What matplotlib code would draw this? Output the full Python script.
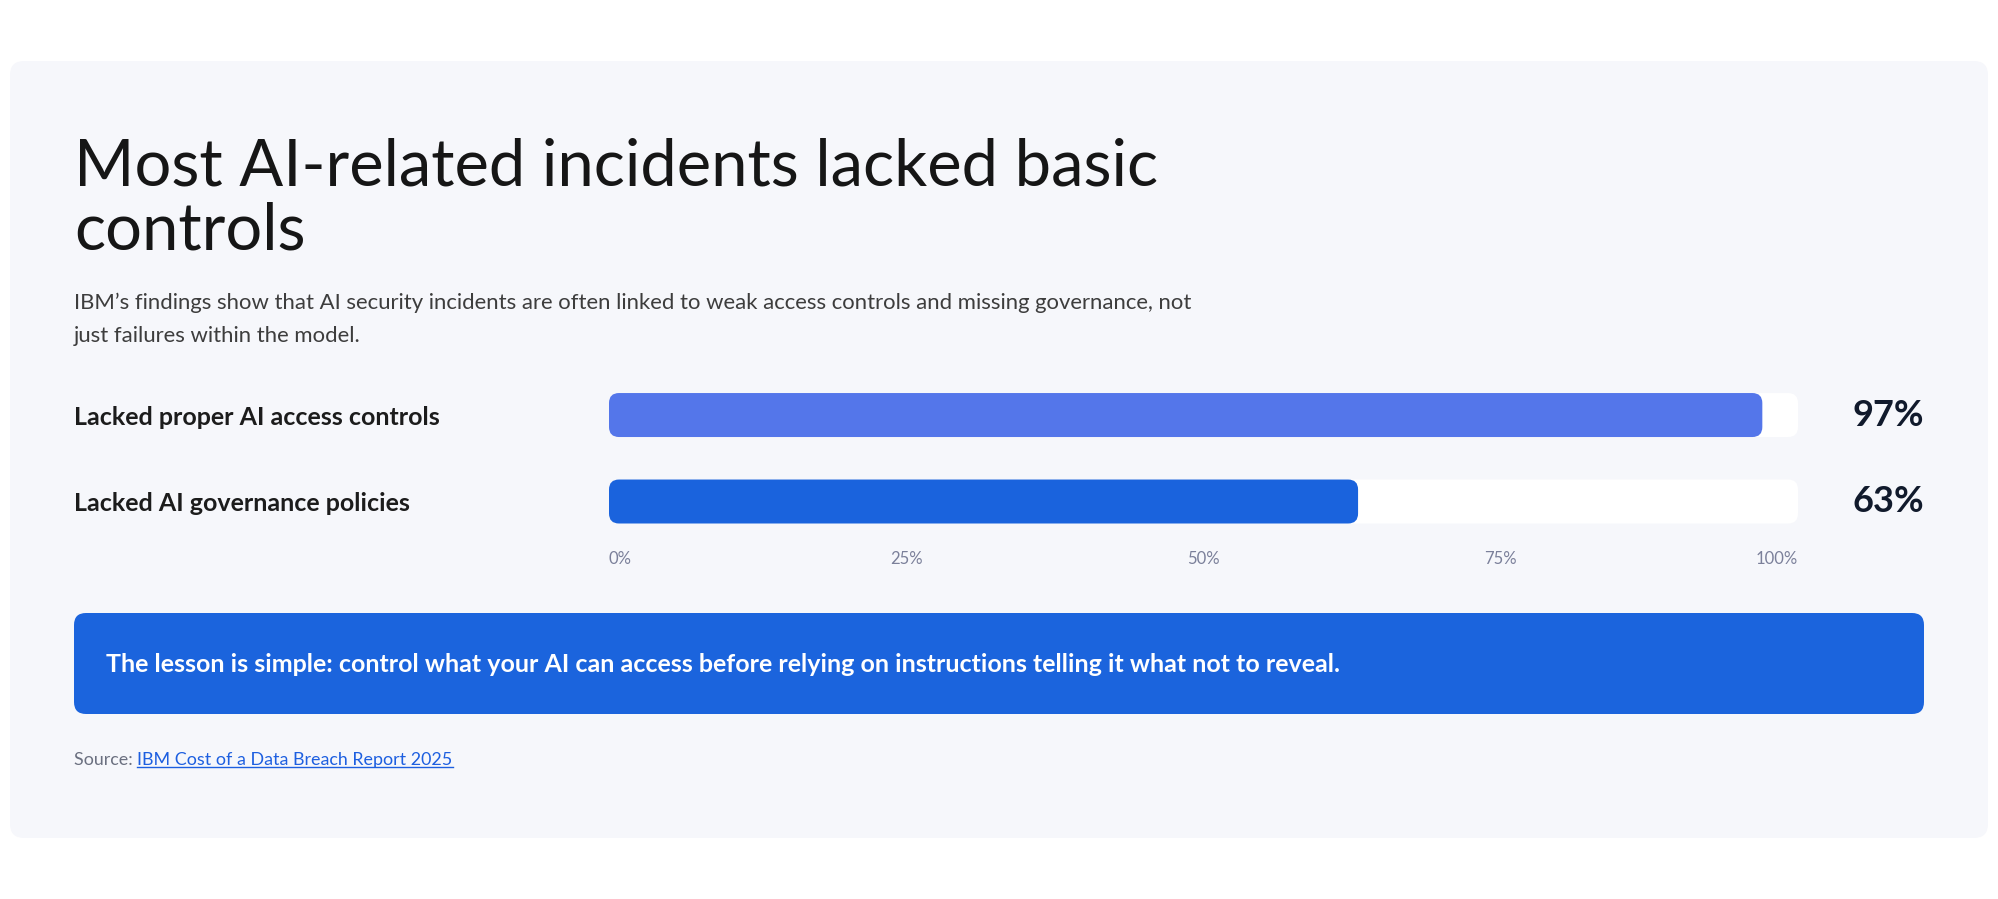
import matplotlib
matplotlib.use("Agg")
import matplotlib.pyplot as plt
from matplotlib.patches import FancyBboxPatch
from matplotlib.lines import Line2D

plt.rcParams['font.family'] = ['Lato', 'DejaVu Sans']

# data
categories = ["Lacked proper AI access controls", "Lacked AI governance policies"]
values = [97, 63]
bar_colors = ["#5476ea", "#1a63dd"]
ticks = [0, 25, 50, 75, 100]
tick_labels = ["0%", "25%", "50%", "75%", "100%"]

title_lines = ["Most AI-related incidents lacked basic", "controls"]
subtitle_lines = [
    "IBM\u2019s findings show that AI security incidents are often linked to weak access controls and missing governance, not",
    "just failures within the model.",
]
callout = "The lesson is simple: control what your AI can access before relying on instructions telling it what not to reveal."
source_prefix = "Source: "
source_link = "IBM Cost of a Data Breach Report 2025"

W, H = 1999, 899
fig = plt.figure(figsize=(W / 100, H / 100), dpi=100)
fig.patch.set_facecolor("white")

# background axes in pixel units
bg = fig.add_axes([0, 0, 1, 1])
bg.set_xlim(0, W)
bg.set_ylim(H, 0)
bg.axis("off")

bg.add_patch(FancyBboxPatch((10, 61), 1978, 777, boxstyle="round,pad=0,rounding_size=14",
                            fc="#f6f7fb", ec="none"))

bg.text(74, 185, title_lines[0], fontsize=46.8, color="#161616", va="baseline")
bg.text(74, 250, title_lines[1], fontsize=46.8, color="#161616", va="baseline")
bg.text(74, 309, subtitle_lines[0], fontsize=15.9, color="#3d3d3d", va="baseline")
bg.text(74, 342, subtitle_lines[1], fontsize=15.9, color="#3d3d3d", va="baseline")

# callout
bg.add_patch(FancyBboxPatch((74, 613), 1850, 101, boxstyle="round,pad=0,rounding_size=12",
                            fc="#1b64dd", ec="none"))
bg.text(106, 664, callout, fontsize=18, color="white", weight="bold", va="center")

# source
src = bg.text(74, 760, source_prefix, fontsize=12.9, color="#6b7080", va="center")
link = bg.annotate(source_link, xy=(1, 0), xycoords=src, va="bottom", ha="left",
                   fontsize=12.9, color="#1d5fe0")

# bars axes
x0, x1 = 609, 1798
top, bottom = 380, 540
ax = fig.add_axes([x0 / W, 1 - bottom / H, (x1 - x0) / W, (bottom - top) / H])
ax.set_facecolor("none")
ax.set_xlim(0, 100)
ax.set_ylim(1.445, -0.405)
for s in ax.spines.values():
    s.set_visible(False)

px_x = (x1 - x0) / 100.0
px_y = 86.5
bar_h = 44 / px_y
aspect = (1 / px_y) / (1 / px_x)
r = 10 / px_x

ypos = list(range(len(categories)))
for y, v, c in zip(ypos, values, bar_colors):
    ax.add_patch(FancyBboxPatch((0, y - bar_h / 2), 100, bar_h,
                                boxstyle=f"round,pad=0,rounding_size={r}",
                                mutation_aspect=aspect, fc="white", ec="none"))
    ax.add_patch(FancyBboxPatch((0, y - bar_h / 2), v, bar_h,
                                boxstyle=f"round,pad=0,rounding_size={r}",
                                mutation_aspect=aspect, fc=c, ec="none"))
    ax.text(100 + (1924 - x1) / px_x, y, f"{v}%", fontsize=26, weight="bold",
            color="#111a2c", ha="right", va="center")

ax.set_yticks(ypos)
ax.set_yticklabels(categories, fontsize=18, color="#1c1c1c", weight="bold")
ax.tick_params(axis="y", length=0, pad=(x0 - 74) * 0.72)
for lbl in ax.get_yticklabels():
    lbl.set_ha("left")

ax.set_xticks(ticks)
ax.set_xticklabels(tick_labels, fontsize=12, color="#7b809a")
ax.tick_params(axis="x", length=0, pad=8)
for lbl, ha in zip(ax.get_xticklabels(), ["left", "center", "center", "center", "right"]):
    lbl.set_ha(ha)

# underline the link
fig.canvas.draw()
bb = link.get_window_extent()
fig.add_artist(Line2D([bb.x0 / W, bb.x1 / W], [(bb.y0 + 1) / H, (bb.y0 + 1) / H],
                      color="#1d5fe0", lw=1))

fig.savefig("out.png", dpi=100, facecolor="white")
